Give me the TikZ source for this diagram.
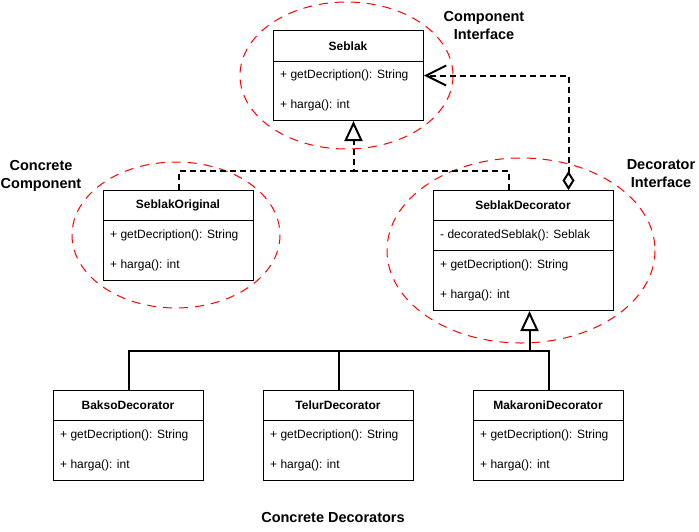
\documentclass[tikz,border=0pt]{standalone}
\usepackage{fontspec}
\setmainfont{Liberation Sans}
\usetikzlibrary{arrows.meta,calc}
\tikzset{
  box/.style={draw=black, line width=1pt, fill=white, rectangle, inner sep=0pt, anchor=north west},
  divider/.style={draw=black, line width=1pt},
  title/.style={font=\fontsize{12}{14}\selectfont\bfseries, inner sep=0pt},
  attr/.style={font=\fontsize{12}{14}\selectfont, inner sep=0pt, anchor=west},
  lbl/.style={font=\fontsize{14.5}{18}\selectfont\bfseries, inner sep=0pt, align=center},
  zone/.style={draw=red, line width=1pt, dash pattern=on 9pt off 7pt},
  dep/.style={draw=black, line width=2pt, dash pattern=on 6pt off 4pt},
  gen/.style={draw=black, line width=2pt},
  tri/.style={-{Triangle[open, length=20pt, width=18pt, line width=2pt]}},
}
\begin{document}
\begin{tikzpicture}[x=1pt, y=-1pt]
\useasboundingbox (0,0) rectangle (699,531);

% zones
\draw[zone] (346.5,75.5) ellipse [x radius=106.5, y radius=73.5];
\draw[zone] (176,235) ellipse [x radius=104, y radius=73];
\draw[zone] (521,250.5) ellipse [x radius=134, y radius=92.5];

% labels
\node[lbl] (lcompi) at (484,26) {Component\\Interface};
\node[lbl] (lconc) at (41,176) {Concrete\\Component};
\node[lbl] (ldeci) at (661,174) {Decorator\\Interface};
\node[lbl] (lcdec) at (333,517) {Concrete Decorators};

% Seblak
\node[box, minimum width=150pt, minimum height=90pt] (seblak) at (273,30) {};
\draw[divider] (273,61) -- (423,61);
\node[title] (seblakt) at (348,46) {Seblak};
\node[attr] (seblaka) at (280,75) {+ getDecription(): String};
\node[attr] (seblakb) at (280,105) {+ harga(): int};

% SeblakOriginal
\node[box, minimum width=150pt, minimum height=90pt] (orig) at (103,190) {};
\draw[divider] (103,220) -- (253,220);
\node[title] (origt) at (178,205) {SeblakOriginal};
\node[attr] (origa) at (110,235) {+ getDecription(): String};
\node[attr] (origb) at (110,265) {+ harga(): int};

% SeblakDecorator
\node[box, minimum width=180pt, minimum height=120pt] (dec) at (433,190) {};
\draw[divider] (433,220) -- (613,220);
\draw[divider] (433,250) -- (613,250);
\node[title] (dect) at (523,205) {SeblakDecorator};
\node[attr] (deca) at (440,235) {- decoratedSeblak(): Seblak};
\node[attr] (decb) at (440,265) {+ getDecription(): String};
\node[attr] (decc) at (440,295) {+ harga(): int};

% Bakso
\node[box, minimum width=150pt, minimum height=90pt] (bakso) at (53,390) {};
\draw[divider] (53,420) -- (203,420);
\node[title] (baksot) at (128,405) {BaksoDecorator};
\node[attr] (baksoa) at (60,435) {+ getDecription(): String};
\node[attr] (baksob) at (60,465) {+ harga(): int};

% Telur
\node[box, minimum width=150pt, minimum height=90pt] (telur) at (263,390) {};
\draw[divider] (263,420) -- (413,420);
\node[title] (telurt) at (338,405) {TelurDecorator};
\node[attr] (telura) at (270,435) {+ getDecription(): String};
\node[attr] (telurb) at (270,465) {+ harga(): int};

% Makaroni
\node[box, minimum width=150pt, minimum height=90pt] (mak) at (473,390) {};
\draw[divider] (473,420) -- (623,420);
\node[title] (makt) at (548,405) {MakaroniDecorator};
\node[attr] (maka) at (480,435) {+ getDecription(): String};
\node[attr] (makb) at (480,465) {+ harga(): int};

% realization to Seblak
\coordinate (j) at ($(seblak.south)+(5,50)$);
\coordinate (decgen) at ($(dec.north)+(-15,0)$);
\draw[dep, tri] (orig.north) |- (j) -- (seblak.south -| j);
\draw[dep] (decgen) |- (j);

% aggregation
\coordinate (decagg) at ($(dec.north)+(45,0)$);
\draw[dep, {Diamond[open, length=19pt, width=12pt, line width=2pt]}-{Straight Barb[length=20pt, width=20pt, line width=2pt]}] (decagg) |- (seblak.east);

% generalization to SeblakDecorator
\coordinate (b) at ($(dec.south)+(6,40)$);
\draw[gen, tri] (bakso.north) |- (b) -- (dec.south -| b);
\draw[gen] (telur.north) |- (b);
\draw[gen] (mak.north) |- (b);
\end{tikzpicture}
\end{document}
